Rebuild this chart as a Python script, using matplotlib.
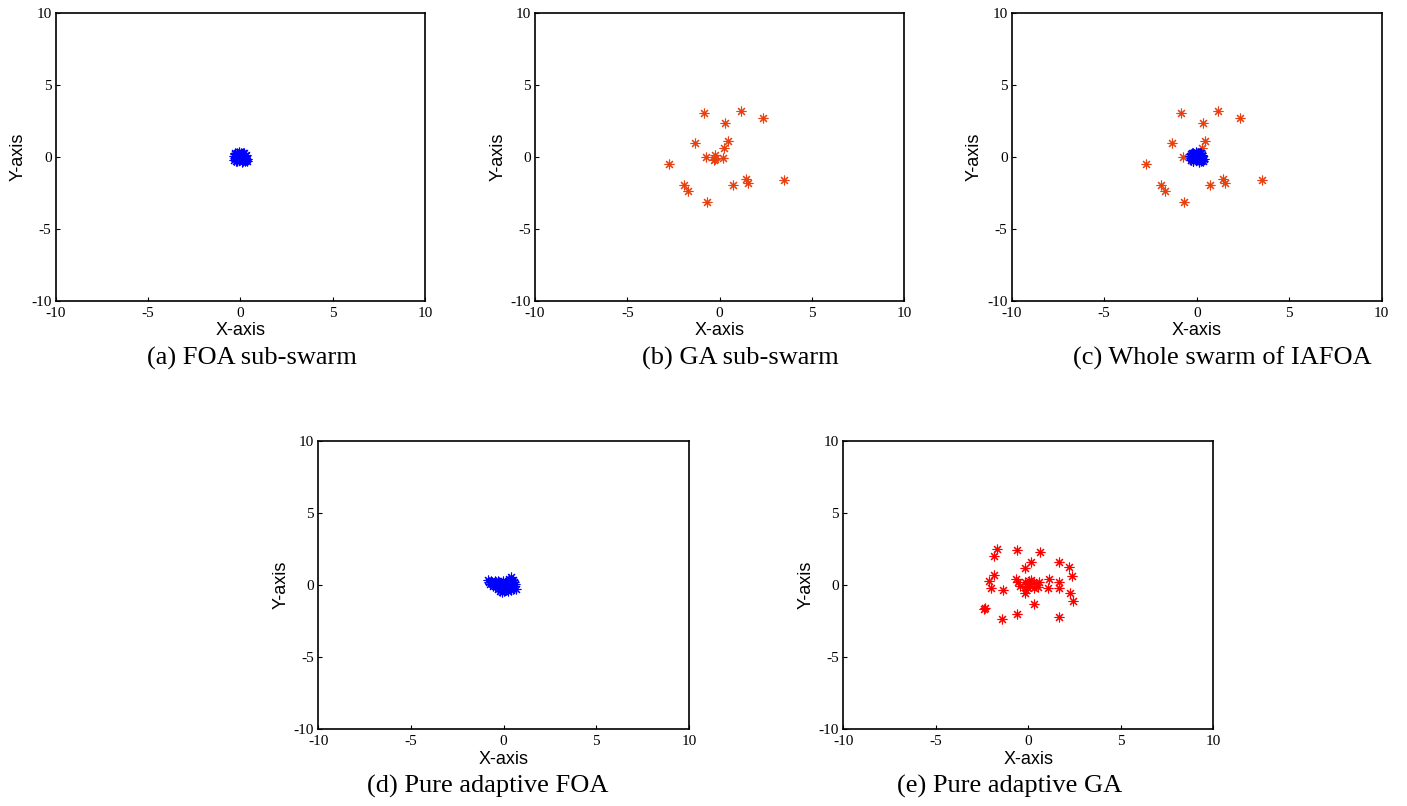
import matplotlib
matplotlib.use("Agg")
import matplotlib.pyplot as plt

plt.rcParams['axes.unicode_minus'] = False

# FOA sub-swarm (blue cluster near the origin)
foa_x = [-0.36, -0.30, -0.24, -0.18, -0.12, -0.05, 0.02, 0.08, 0.15, 0.22, 0.30, 0.38,
         -0.33, -0.26, -0.19, -0.10, -0.02, 0.06, 0.13, 0.21, 0.28,
         -0.28, -0.20, -0.12, -0.04, 0.04, 0.11, 0.18, 0.26, 0.34,
         -0.22, -0.14, -0.06, 0.03, 0.10, 0.17, -0.30, 0.24]
foa_y = [0.05, 0.18, -0.10, 0.28, 0.02, 0.33, -0.05, 0.22, 0.10, -0.02, 0.15, -0.12,
         -0.20, 0.08, -0.25, 0.15, -0.15, 0.30, -0.28, 0.25, -0.22,
         0.25, 0.12, -0.08, 0.05, -0.02, 0.12, -0.10, 0.04, -0.28,
         -0.30, 0.20, -0.22, 0.18, -0.32, 0.26, -0.05, -0.30]

# GA sub-swarm
ga_x = [-0.85, 1.14, 0.32, 2.34, -1.35, 0.45, 0.27, -0.72, -0.27, -0.22,
        -0.31, 0.18, -2.74, -1.93, -1.71, -0.66, 0.72, 1.41, 1.55, 3.51]
ga_y = [3.04, 3.22, 2.39, 2.70, 0.95, 1.13, 0.62, -0.03, 0.16, -0.14,
        -0.24, -0.10, -0.49, -1.92, -2.39, -3.12, -1.95, -1.53, -1.81, -1.63]

# pure adaptive FOA
pfoa_x = [-0.85, -0.78, -0.70, -0.62, -0.72, -0.55, -0.48, -0.40, -0.32, -0.25, -0.15, -0.05,
          0.05, 0.15, 0.25, 0.35, 0.45, 0.55, 0.62,
          -0.45, -0.35, -0.25, -0.15, -0.05, 0.08, 0.18, 0.28, 0.38, 0.48, 0.58,
          -0.30, -0.20, -0.10, 0.0, 0.12, 0.22, 0.32, 0.42, 0.52,
          0.30, 0.40, 0.48, -0.60, 0.65]
pfoa_y = [0.35, 0.22, 0.30, 0.18, 0.05, 0.10, 0.25, 0.20, 0.28, 0.22, 0.15, 0.30,
          0.10, 0.22, 0.25, 0.30, 0.22, 0.18, 0.05,
          -0.05, -0.10, 0.00, -0.15, -0.05, -0.08, 0.02, -0.12, 0.05, -0.05, -0.10,
          -0.30, -0.40, -0.50, -0.42, -0.35, -0.45, -0.30, -0.38, -0.28,
          0.45, 0.52, 0.38, -0.05, -0.25]

# pure adaptive GA
pga_x = [-1.69, -1.84, -0.61, 0.61, 0.15, -0.16, 1.64, 2.18, 2.36, -1.88, -2.15, -2.02,
         -1.37, -0.66, -0.58, -0.47,
         -0.16, 0.02, 0.15, 0.29, 0.56, -0.07, 0.11, -0.11, 0.29, 0.50, -0.16,
         1.14, 1.06, 1.64, 1.68, 2.27, 2.39, 0.29, -2.32, -2.41, -0.61, -1.42, 1.66]
pga_y = [2.48, 2.04, 2.43, 2.31, 1.62, 1.20, 1.62, 1.27, 0.63, 0.70, 0.28, -0.19,
         -0.35, 0.40, 0.23, -0.07,
         0.23, 0.30, 0.35, 0.16, 0.23, -0.12, -0.07, -0.35, -0.23, -0.16, -0.58,
         0.40, -0.19, 0.23, -0.19, -0.53, -1.09, -1.32, -1.58, -1.69, -2.01, -2.36, -2.20]

captions = ['(a) FOA sub-swarm', '(b) GA sub-swarm', '(c) Whole swarm of IAFOA',
            '(d) Pure adaptive FOA', '(e) Pure adaptive GA']
ticks = [-10, -5, 0, 5, 10]

W, H = 1407, 806
fig = plt.figure(figsize=(W / 100, H / 100), dpi=100)

# axes boxes in pixels: left, top, right, bottom
boxes = [(55.7, 13, 425, 301),
         (535, 13, 904, 301),
         (1011.7, 13, 1381.7, 301),
         (318.3, 440.7, 689, 729.3),
         (843.3, 440.7, 1213.3, 729.3)]
# caption centres in pixels
cap_pos = [(252, 358), (740, 358), (1222, 358), (488, 786), (1010, 786)]

blue = '#0000FF'
orange_red = '#E8400F'
red = '#FF0000'
star = (8, 2, 0)


def draw(ax, x, y, color):
    ax.plot(x, y, linestyle='none', marker=star, markersize=7,
            markeredgewidth=0.8, color=color)


axes = []
for i, (l, t, r, b) in enumerate(boxes):
    ax = fig.add_axes([l / W, 1 - b / H, (r - l) / W, (b - t) / H])
    ax.set_xlim(-10, 10)
    ax.set_ylim(-10, 10)
    ax.set_xticks(ticks)
    ax.set_yticks(ticks)
    ax.tick_params(direction='in', length=3, width=0.8, labelsize=11,
                   top=False, right=False)
    ax.tick_params(axis='x', pad=4)
    ax.tick_params(axis='y', pad=3)
    for lab in ax.get_xticklabels() + ax.get_yticklabels():
        lab.set_fontfamily('Liberation Serif')
    for sp in ax.spines.values():
        sp.set_linewidth(1.2)
    ax.set_xlabel('X-axis', fontfamily='Liberation Sans', fontsize=13, labelpad=2)
    ax.set_ylabel('Y-axis', fontfamily='Liberation Sans', fontsize=13, labelpad=3)
    cx, cy = cap_pos[i]
    fig.text(cx / W, 1 - cy / H, captions[i],
             fontfamily='Liberation Serif', fontsize=19, ha='center', va='center')
    axes.append(ax)

draw(axes[0], foa_x, foa_y, blue)
draw(axes[1], ga_x, ga_y, orange_red)
draw(axes[2], ga_x, ga_y, orange_red)
draw(axes[2], foa_x, foa_y, blue)
draw(axes[3], pfoa_x, pfoa_y, blue)
draw(axes[4], pga_x, pga_y, red)

fig.savefig('out.png', dpi=100)
